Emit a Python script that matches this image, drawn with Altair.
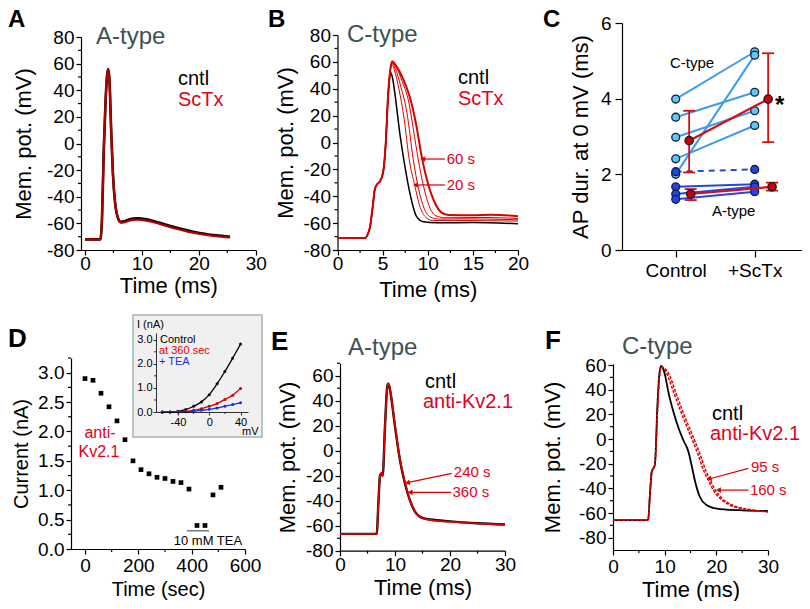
import math
import altair as alt
import pandas as pd

FONT = "Liberation Sans"
W, H, M = 794, 593, 8
BLACK = "#000000"
RED = "#d90000"
TRED = "#e3001b"
TGRAY = "#3d5252"
LBLUE_LINE = "#3d9cf0"
LBLUE_FILL = "#5cc8f5"
DBLUE_LINE = "#2348e6"
DBLUE_FILL = "#1f45ea"
EDGE = "#1a1a3a"

# ---------------- data ----------------
# A: A-type action potential (ms, mV)
A_T_CNTL = [0, 2.7, 3.0, 3.3, 3.6, 3.9, 4.1, 4.3, 4.6, 4.9, 5.3, 5.8, 6.3, 6.8, 7.5, 8.5, 9.5,
            10.5, 11.5, 13, 15, 17, 19, 21, 23, 25.5]
A_V_CNTL = [-72, -72, -55, -5, 30, 52, 56, 48, 10, -22, -45, -56, -59, -58.5, -57.5, -56.3, -56.2,
            -56.8, -57.6, -59.4, -62, -64.3, -66.3, -67.8, -69, -70]
A_T_SCTX = A_T_CNTL
A_V_SCTX = [-72, -72, -55, -5, 30, 52, 55.5, 48, 10, -22, -45, -56, -59.5, -59.2, -58.3, -57.3, -57.2,
            -57.7, -58.5, -60.2, -62.8, -65, -67, -68.5, -69.6, -70.6]

# B: C-type action potential, control and ScTx at increasing times
B_RISE_T = [0, 3.1, 3.3, 3.6, 3.9, 4.13, 4.4, 4.7, 5.06, 5.35, 5.6]
B_RISE_V = [-71, -71, -69, -63, -48, -35, -31, -29, -22, 0, 34]
B_CNTL_T = [5.8, 5.9, 6.1, 6.35, 6.9, 7.6, 8.2, 8.75, 9.5, 11, 15, 20]
B_CNTL_V = [50, 52, 48, 37, 7, -23, -43, -55, -59, -59.8, -59.5, -60.5]
B_20S_T = [5.8, 6.05, 6.3, 6.8, 7.4, 7.93, 8.56, 9.1, 9.7, 10.5, 13, 20]
B_20S_V = [51, 58, 54, 40, 17, -12, -32, -47, -55, -58, -58, -58.5]
B_40S_T = [5.8, 6.05, 6.4, 7.0, 7.7, 8.38, 9.0, 9.6, 10.3, 11.2, 14, 20]
B_40S_V = [51, 59, 55, 42, 22, -12, -35, -49, -55.5, -57, -56.8, -57.5]
B_50S_T = [5.8, 6.05, 6.5, 7.2, 7.9, 8.4, 8.93, 9.55, 10.2, 10.9, 12, 16, 20]
B_50S_V = [51, 60, 56, 45, 30, 10, -12, -33, -48, -54.5, -56, -55.8, -56.5]
B_60S_T = [5.8, 6.05, 6.5, 7.3, 8.0, 8.7, 9.37, 10.0, 10.8, 11.5, 12.3, 15, 17, 20]
B_60S_V = [51, 60.5, 57, 47, 34, 14, -12, -30, -45, -52, -54, -54.2, -53.8, -54.8]

# C: AP duration at 0 mV (ms), paired cells
C_CTRL_CTYPE = [3.99, 3.51, 2.98, 2.41, 2.00]
C_SCTX_CTYPE = [5.24, 4.17, 3.68, 3.29, 5.15]
C_CTRL_ATYPE = [1.67, 1.48, 1.34]
C_SCTX_ATYPE = [1.74, 1.67, 1.54]
C_CTRL_DASH = [2.07]
C_SCTX_DASH = [2.13]
C_MEAN_CTYPE = [2.89, 3.99]
C_LO_CTYPE = [2.05, 2.85]
C_HI_CTYPE = [3.68, 5.20]
C_MEAN_ATYPE = [1.48, 1.67]
C_LO_ATYPE = [1.32, 1.57]
C_HI_ATYPE = [1.61, 1.78]
C_CATS = ["Control", "+ScTx"]

# D: current vs time with anti-Kv2.1
D_TIME = [0, 30, 60, 90, 120, 150, 180, 210, 240, 270, 300, 330, 360, 390, 420, 450, 480, 510]
D_CURR = [2.90, 2.87, 2.65, 2.42, 2.18, 1.86, 1.50, 1.35, 1.28, 1.22, 1.20, 1.15, 1.13, 1.02,
          0.40, 0.40, 0.92, 1.05]
D_TEA = [382, 465]
# D inset: I-V
IV_MV = [-60, -50, -40, -30, -20, -10, 0, 10, 20, 30, 40]
IV_CTRL = [0, 0, 0.03, 0.10, 0.24, 0.42, 0.72, 1.17, 1.68, 2.24, 2.82]
IV_360 = [0, 0, 0.01, 0.03, 0.07, 0.14, 0.24, 0.35, 0.52, 0.70, 0.98]
IV_TEA = [0, 0, 0, 0.01, 0.03, 0.07, 0.11, 0.17, 0.24, 0.31, 0.38]

# E: A-type AP, anti-Kv2.1
E_T = [0, 6.67, 7.0, 7.27, 7.45, 7.6, 7.76, 8.18, 8.6, 8.78, 9.0, 9.2, 10.0, 10.9, 11.8, 12.7,
       13.6, 15.1, 16.4, 20, 25, 30]
E_V_CNTL = [-66.5, -66.5, -40, -20, -18.5, -18, -20, 19.5, 51.5, 53.5, 51, 46, 19.5, -7.5, -26,
            -39.5, -48.5, -54, -55, -56.5, -58, -59]
E_V_ANTI = [-66.5, -66.5, -40, -20, -18.5, -18, -20, 19.5, 51.5, 54, 51.5, 46.5, 20, -7, -25.5,
            -39.5, -48.5, -54.2, -55.3, -56.8, -58.2, -59.3]

# F: C-type AP, anti-Kv2.1
F_RISE_T = [0, 6.8, 7.15, 7.5, 7.8, 8.1]
F_RISE_V = [-65.7, -65.7, -45, -26.5, -23.8, -21]
F_CNTL_T = [8.6, 8.95, 9.3, 9.6, 10.06, 10.7, 11.7, 12.6, 13.6, 14.6, 15.2, 15.9, 16.8, 18.1,
            20.1, 22, 25, 30]
F_CNTL_V = [27.6, 52, 59.2, 58, 52, 38.4, 22, 10, -0.8, -10.3, -21, -34.6, -46.8, -53.5, -56.5,
            -57.2, -57.8, -58.3]
F_95S_T = [8.65, 9.0, 9.4, 9.8, 10.4, 11.7, 13.0, 14.3, 15.5, 16.5, 17.5, 18.4, 19.4, 20.7, 22.6,
           24.5, 27, 30]
F_95S_V = [27, 51, 58.5, 57.5, 53, 38.4, 23.5, 10, -2.2, -13, -25, -33, -41.4, -48, -53.5, -56,
           -57.8, -59]
F_160S_T = [8.65, 9.0, 9.4, 9.9, 10.8, 12.1, 13.4, 14.7, 15.9, 16.9, 17.9, 18.8, 19.8, 21.1,
            23.0, 24.9, 27.4, 30]
F_160S_V = [27, 51, 58.5, 57.5, 53, 38.4, 23.5, 10, -2.2, -13, -25, -33, -41.4, -48, -53.5, -56,
            -57.8, -59]

layers = []


def P(v):
    return v - M


class Panel:
    def __init__(self, xd, xr, yd, yr):
        self.xd, self.yd = xd, yd
        self.xr = [P(xr[0]), P(xr[1])]
        self.yr = [P(yr[0]), P(yr[1])]

    def xs(self):
        return alt.Scale(domain=self.xd, range=self.xr, nice=False, zero=False)

    def ys(self):
        return alt.Scale(domain=self.yd, range=self.yr, nice=False, zero=False)

    def X(self, f="x", axis=None):
        return alt.X(f"{f}:Q", scale=self.xs(), axis=axis)

    def Y(self, f="y", axis=None):
        return alt.Y(f"{f}:Q", scale=self.ys(), axis=axis)

    def px(self, v):
        return self.xr[0] + (v - self.xd[0]) / (self.xd[1] - self.xd[0]) * (self.xr[1] - self.xr[0])

    def py(self, v):
        return self.yr[0] + (v - self.yd[0]) / (self.yd[1] - self.yd[0]) * (self.yr[1] - self.yr[0])


def axes(p, xv, yv, xt, yt, lfs=19, tfs=22, xexpr="'' + datum.value", yexpr="'' + datum.value",
         tick=5, dw=1.2, xtp=4, ytp=6, xlp=2, ylp=2, xminor=None, yminor=None, mtick=3, z=0):
    df = pd.DataFrame({"x": p.xd, "y": p.yd})
    common = dict(domainColor=BLACK, domainWidth=dw, tickColor=BLACK, tickWidth=dw, tickSize=tick,
                  labelFont=FONT, labelFontSize=lfs, labelColor=BLACK,
                  titleFont=FONT, titleFontSize=tfs, titleFontWeight="normal", titleColor=BLACK,
                  grid=False, labelFlush=False, labelOverlap=False, zindex=z)
    xa = alt.Axis(orient="bottom", offset=p.yr[0] - H, values=xv, title=xt, labelExpr=xexpr,
                  titlePadding=xtp, labelPadding=xlp, **common)
    ya = alt.Axis(orient="left", offset=-p.xr[0], values=yv, title=yt, labelExpr=yexpr,
                  titlePadding=ytp, labelPadding=ylp, **common)
    layers.append(alt.Chart(df).mark_point(opacity=0).encode(x=p.X("x", xa), y=p.Y("y", ya)))
    if yminor:
        d = pd.DataFrame({"y": yminor})
        layers.append(alt.Chart(d).mark_rule(color=BLACK, strokeWidth=dw).encode(
            y=p.Y(), x=alt.value(p.xr[0]), x2=alt.value(p.xr[0] - mtick)))
    if xminor:
        d = pd.DataFrame({"x": xminor})
        layers.append(alt.Chart(d).mark_rule(color=BLACK, strokeWidth=dw).encode(
            x=p.X(), y=alt.value(p.yr[0]), y2=alt.value(p.yr[0] + mtick)))


def trace(p, t, v, color, width, dash=None):
    df = pd.DataFrame({"x": t, "y": v})
    kw = dict(color=color, strokeWidth=width, interpolate="monotone")
    if dash:
        kw["strokeDash"] = dash
    layers.append(alt.Chart(df).mark_line(**kw).encode(x=p.X(), y=p.Y()))


def label(text, x, y, size, color=BLACK, align="left", weight="normal", baseline="middle"):
    df = pd.DataFrame({"t": [text]})
    layers.append(alt.Chart(df).mark_text(align=align, baseline=baseline, font=FONT, fontSize=size,
                                          fontWeight=weight, color=color).encode(
        x=alt.value(P(x)), y=alt.value(P(y)), text="t:N"))


def dlabel(p, text, x, y, size, color=BLACK, align="left"):
    df = pd.DataFrame({"t": [text], "x": [x], "y": [y]})
    layers.append(alt.Chart(df).mark_text(align=align, baseline="middle", font=FONT, fontSize=size,
                                          color=color).encode(x=p.X(), y=p.Y(), text="t:N"))


def arrow(p, tail, tip, color=RED, width=1.2, head=32):
    df = pd.DataFrame({"x": [tail[0]], "y": [tail[1]], "x2": [tip[0]], "y2": [tip[1]]})
    layers.append(alt.Chart(df).mark_rule(color=color, strokeWidth=width).encode(
        x=p.X(), y=p.Y(), x2=alt.X2("x2"), y2=alt.Y2("y2")))
    dx = p.px(tip[0]) - p.px(tail[0])
    dy = p.py(tip[1]) - p.py(tail[1])
    ang = math.degrees(math.atan2(-dy, -dx)) % 360
    d2 = pd.DataFrame({"x": [tip[0]], "y": [tip[1]]})
    layers.append(alt.Chart(d2).mark_point(shape="triangle-left", filled=True, size=head, color=color,
                                           angle=ang, opacity=1).encode(x=p.X(), y=p.Y()))


MV_TICKS = [-80, -60, -40, -20, 0, 20, 40, 60, 80]
MV_MINOR = [-70, -50, -30, -10, 10, 30, 50, 70]

# ---------------- Panel A ----------------
pA = Panel([-0.7, 30], [81, 255.7], [-80, 80], [250, 37])
axes(pA, [0, 10, 20, 30], MV_TICKS, "Time (ms)", "Mem. pot. (mV)",
     xminor=[5, 15, 25], yminor=MV_MINOR, xlp=-1, xtp=2, ytp=11)
trace(pA, A_T_CNTL, A_V_CNTL, BLACK, 2.6)
trace(pA, A_T_SCTX, A_V_SCTX, "#b00000", 2.2)
label("A", 8, 20, 24, weight="bold")
label("A-type", 96, 37, 24, TGRAY)
label("cntl", 178, 79, 20)
label("ScTx", 178, 100, 20, TRED)

# ---------------- Panel B ----------------
pB = Panel([0, 20], [337.5, 518], [-80, 80], [250, 35])
axes(pB, [0, 5, 10, 15, 20], MV_TICKS, "Time (ms)", "Mem. pot. (mV)",
     xminor=[2.5, 7.5, 12.5, 17.5], yminor=MV_MINOR, xlp=-1, xtp=6, ytp=6)
trace(pB, B_RISE_T + B_20S_T, B_RISE_V + B_20S_V, RED, 1.0)
trace(pB, B_RISE_T + B_40S_T, B_RISE_V + B_40S_V, RED, 1.0)
trace(pB, B_RISE_T + B_50S_T, B_RISE_V + B_50S_V, RED, 1.0)
trace(pB, B_RISE_T + B_CNTL_T, B_RISE_V + B_CNTL_V, BLACK, 1.5)
trace(pB, B_RISE_T + B_60S_T, B_RISE_V + B_60S_V, RED, 2.0)
arrow(pB, (11.9, -12.3), (9.45, -12.3))
arrow(pB, (11.9, -31.6), (8.65, -31.6))
dlabel(pB, "60 s", 12.1, -12.3, 15, TRED)
dlabel(pB, "20 s", 12.1, -31.6, 15, TRED)
label("B", 268, 20, 24, weight="bold")
label("C-type", 347, 35, 24, TGRAY)
label("cntl", 458, 78, 20)
label("ScTx", 458, 99, 20, TRED)

# ---------------- Panel C ----------------
pC = Panel([0.32, 2.7], [622, 810], [0, 6], [250, 23])
axes(pC, [1, 2], [0, 2, 4, 6], None, "AP dur. at 0 mV (ms)", tick=7, xlp=4, ylp=4, ytp=8,
     xexpr="datum.value == 1 ? '%s' : '%s'" % (C_CATS[0], C_CATS[1]))


def pairs(ctrl, sctx, color, width=2.0, dash=None):
    df = pd.DataFrame({"x": [1] * len(ctrl), "x2": [2] * len(ctrl), "y": ctrl, "y2": sctx})
    kw = dict(color=color, strokeWidth=width)
    if dash:
        kw["strokeDash"] = dash
    layers.append(alt.Chart(df).mark_rule(**kw).encode(
        x=pC.X(), x2=alt.X2("x2"), y=pC.Y(), y2=alt.Y2("y2")))


def dots(xs, ys, fill, size=62):
    df = pd.DataFrame({"x": xs, "y": ys})
    layers.append(alt.Chart(df).mark_circle(size=size, color=fill, opacity=1, stroke=EDGE,
                                            strokeWidth=1.3).encode(x=pC.X(), y=pC.Y()))


def meanbar(xs, mean, lo, hi):
    df = pd.DataFrame({"x": [xs[0]], "x2": [xs[1]], "y": [mean[0]], "y2": [mean[1]]})
    layers.append(alt.Chart(df).mark_rule(color="#d41010", strokeWidth=2.2).encode(
        x=pC.X(), x2=alt.X2("x2"), y=pC.Y(), y2=alt.Y2("y2")))
    de = pd.DataFrame({"x": xs, "y": lo, "y2": hi})
    layers.append(alt.Chart(de).mark_rule(color="#d41010", strokeWidth=1.8).encode(
        x=pC.X(), y=pC.Y(), y2=alt.Y2("y2")))
    for vals in (lo, hi):
        dc = pd.DataFrame({"x": xs, "y": vals})
        layers.append(alt.Chart(dc).mark_rule(color="#d41010", strokeWidth=1.8, xOffset=-6,
                                              x2Offset=6).encode(
            x=pC.X(), x2=alt.X2("x"), y=pC.Y()))


pairs(C_CTRL_CTYPE, C_SCTX_CTYPE, LBLUE_LINE)
pairs(C_CTRL_ATYPE, C_SCTX_ATYPE, DBLUE_LINE)
pairs(C_CTRL_DASH, C_SCTX_DASH, DBLUE_LINE, dash=[6, 5])
dots([1] * 5 + [2] * 5, C_CTRL_CTYPE + C_SCTX_CTYPE, LBLUE_FILL)
dots([1] * 4 + [2] * 4, C_CTRL_ATYPE + C_CTRL_DASH + C_SCTX_ATYPE + C_SCTX_DASH, DBLUE_FILL)
MX_C = [1.17, 2.17]
MX_A = [1.19, 2.22]
meanbar(MX_C, C_MEAN_CTYPE, C_LO_CTYPE, C_HI_CTYPE)
meanbar(MX_A, C_MEAN_ATYPE, C_LO_ATYPE, C_HI_ATYPE)
dots(MX_C + MX_A, C_MEAN_CTYPE + C_MEAN_ATYPE, "#c80000", size=70)
label("*", 775, 106, 24, weight="bold")
label("C", 543, 20, 24, weight="bold")
label("C-type", 670, 63, 15)
label("A-type", 712, 211, 15)

# ---------------- Panel D ----------------
pD = Panel([-52.5, 600], [71, 245], [0, 3.25], [549, 358])
axes(pD, [0, 200, 400, 600], [0, 0.5, 1, 1.5, 2, 2.5, 3], "Time (sec)", "Current (nA)",
     tfs=20, yexpr="format(datum.value, '.1f')", xminor=[100, 300, 500],
     yminor=[0.25, 0.75, 1.25, 1.75, 2.25, 2.75, 3.25])
dfD = pd.DataFrame({"x": D_TIME, "y": D_CURR})
layers.append(alt.Chart(dfD).mark_square(size=22, color=BLACK, opacity=1).encode(x=pD.X(), y=pD.Y()))
dtea = pd.DataFrame({"x": [D_TEA[0]], "x2": [D_TEA[1]], "y": [0.31]})
layers.append(alt.Chart(dtea).mark_rule(color="#7a7a7a", strokeWidth=1.5).encode(
    x=pD.X(), x2=alt.X2("x2"), y=pD.Y()))
dlabel(pD, "10 mM TEA", 461, 0.13, 13, align="center")
label("D", 8, 339, 26, weight="bold")
label("anti-", 100, 433, 16, TRED, align="center")
label("Kv2.1", 99, 452, 16, TRED, align="center")

# inset
box = pd.DataFrame({"a": [0]})
layers.append(alt.Chart(box).mark_rect(fill="#f0f0f0", stroke="#a0b8ae", strokeWidth=1.5).encode(
    x=alt.value(P(133)), x2=alt.value(P(262)), y=alt.value(P(315)), y2=alt.value(P(437))))
pI = Panel([-68, 49.5], [156, 248], [0, 3.28], [412, 333])
axes(pI, [-40, 0, 40], [0, 1, 2, 3], None, None, lfs=11, tick=3, dw=0.8, xlp=1, ylp=1,
     yexpr="format(datum.value, '.1f')", xminor=[-60, -20, 20], yminor=[0.5, 1.5, 2.5], mtick=2,
     z=2)
for vals, col in ((IV_CTRL, BLACK), (IV_360, "#d00000"), (IV_TEA, "#1030f0")):
    d = pd.DataFrame({"x": IV_MV, "y": vals})
    layers.append(alt.Chart(d).mark_line(color=col, strokeWidth=1.3, interpolate="monotone").encode(
        x=pI.X(), y=pI.Y()))
    layers.append(alt.Chart(d).mark_circle(color=col, size=9, opacity=1).encode(x=pI.X(), y=pI.Y()))
label("I (nA)", 137, 325, 11)
label("mV", 242, 432, 11)
label("Control", 160, 340, 11)
label("at 360 sec", 159, 351, 11, "#e00000")
label("+ TEA", 159, 362, 11, "#1030f0")

# ---------------- Panel E ----------------
pE = Panel([0, 30], [340, 505], [-80, 70], [550.7, 363.2])
axes(pE, [0, 10, 20, 30], MV_TICKS[:-1], "Time (ms)", "Mem. pot. (mV)",
     xminor=[5, 15, 25], yminor=MV_MINOR, xlp=0, xtp=3)
trace(pE, E_T, E_V_CNTL, BLACK, 2.4)
trace(pE, E_T, E_V_ANTI, "#e00000", 1.7)
arrow(pE, (20.3, -18.1), (12.25, -25.6))
arrow(pE, (20.2, -33.3), (12.75, -33.3))
dlabel(pE, "240 s", 20.7, -17.3, 15, TRED)
dlabel(pE, "360 s", 20.45, -33.3, 15, TRED)
label("E", 271, 342, 26, weight="bold")
label("A-type", 348, 348, 24, TGRAY)
label("cntl", 425, 382, 20)
label("anti-Kv2.1", 423, 402, 20, TRED)

# ---------------- Panel F ----------------
pF = Panel([0, 30], [613, 768], [-90, 61], [550, 363.8])
axes(pF, [0, 10, 20, 30], MV_TICKS[:-1], "Time (ms)", "Mem. pot. (mV)",
     xminor=[5, 15, 25], yminor=MV_MINOR[:-1], ytp=14, xtp=3)
trace(pF, F_RISE_T + F_CNTL_T, F_RISE_V + F_CNTL_V, BLACK, 1.8)
trace(pF, F_RISE_T + F_95S_T, F_RISE_V + F_95S_V, "#e00000", 1.5, dash=[3, 1.5])
trace(pF, F_RISE_T + F_160S_T, F_RISE_V + F_160S_V, "#e00000", 1.5, dash=[3, 1.5])
arrow(pF, (26.2, -23.8), (18.6, -32.4))
arrow(pF, (26.2, -41.4), (20.4, -41.4))
dlabel(pF, "95 s", 26.7, -22.7, 15, TRED)
dlabel(pF, "160 s", 26.5, -41.4, 15, TRED)
label("F", 545, 341, 26, weight="bold")
label("C-type", 622, 347, 24, TGRAY)
label("cntl", 712, 414, 20)
label("anti-Kv2.1", 710, 434, 20, TRED)

chart = alt.layer(*layers).resolve_scale(x="independent", y="independent").properties(
    width=W, height=H, autosize=alt.AutoSizeParams(type="none"), padding=0
).configure_view(stroke=None).configure_axis(grid=False)

chart.save("out.html", embed_options={"renderer": "svg", "actions": False})
